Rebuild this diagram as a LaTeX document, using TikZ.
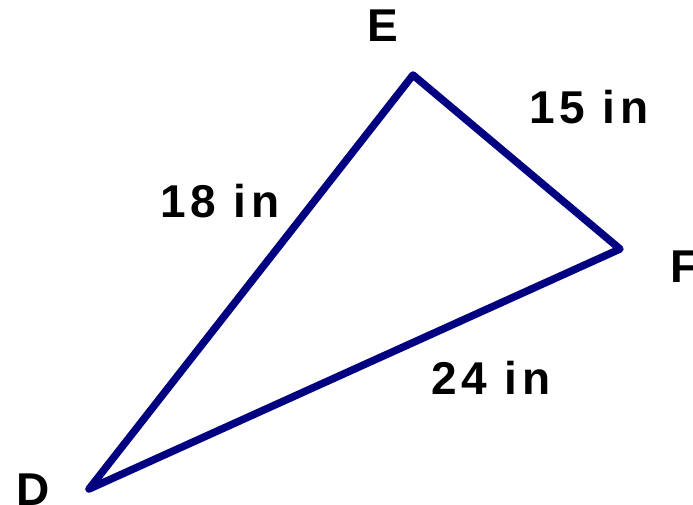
\documentclass[tikz,border=0pt]{standalone}
\usepackage{fontspec}
\newfontfamily\lblfont{Liberation Sans}[LetterSpace=10]
\definecolor{navy}{RGB}{0,0,128}
\begin{document}
\begin{tikzpicture}[x=1pt, y=-1pt, line join=round, line cap=round,
    lbl/.style={font=\lblfont\bfseries\fontsize{46}{46}\selectfont, inner sep=0pt}]
    \useasboundingbox (0, 0) rectangle (693, 505);

    % Points
    \coordinate (E) at (413, 75);
    \coordinate (F) at (620, 249);
    \coordinate (D) at (89, 489);

    % Lines
    \draw[navy, line width=7.5pt] (D) -- (E) -- (F) -- cycle;

    % Labels
    \node[lbl] (labE) at (383, 26) {E};
    \node[lbl] (labF) at (685, 267) {F};
    \node[lbl] (labD) at (33, 490) {D};
    \node[lbl] (labEF) at (589, 107) {15 in};
    \node[lbl] (labDE) at (220, 201) {18 in};
    \node[lbl] (labDF) at (491, 378) {24 in};
\end{tikzpicture}
\end{document}
